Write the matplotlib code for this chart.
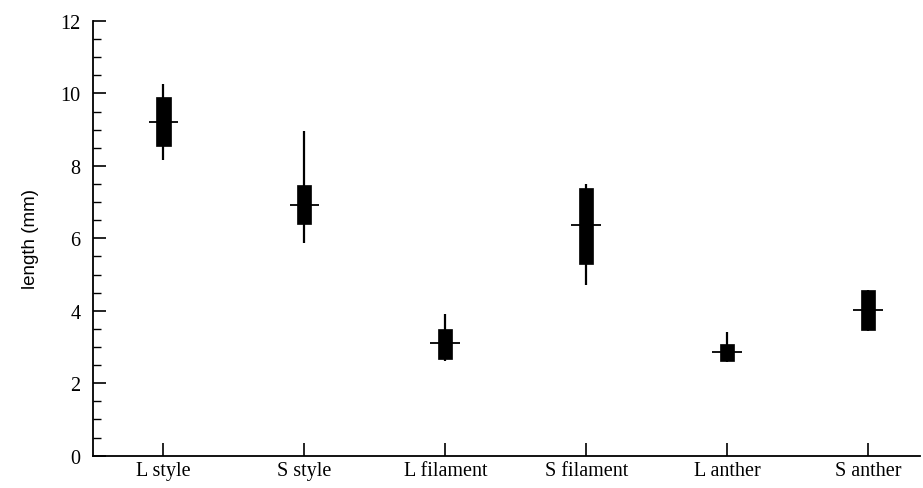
import matplotlib
matplotlib.use("Agg")
import matplotlib.pyplot as plt
from matplotlib.ticker import MultipleLocator

categories = ["L style", "S style", "L filament", "S filament", "L anther", "S anther"]
whisker_low = [8.15, 5.88, 2.62, 4.70, 2.60, 3.45]
box_low = [8.55, 6.41, 2.68, 5.30, 2.62, 3.47]
median = [9.22, 6.93, 3.12, 6.36, 2.87, 4.01]
box_high = [9.90, 7.46, 3.51, 7.38, 3.09, 4.57]
whisker_high = [10.27, 8.95, 3.90, 7.49, 3.41, 4.57]
yticks = [0, 2, 4, 6, 8, 10, 12]

fig = plt.figure(figsize=(9.23, 4.89), dpi=100)
ax = fig.add_axes([0.1008, 0.066, 0.896, 0.889])

pos = list(range(1, len(categories) + 1))
ax.vlines(pos, whisker_low, whisker_high, color="black", linewidth=1.6, zorder=2)
ax.bar(pos, [h - l for h, l in zip(box_high, box_low)], bottom=box_low,
       width=0.1, color="black", edgecolor="black", linewidth=0.5, zorder=3)
ax.hlines(median, [p - 0.105 for p in pos], [p + 0.105 for p in pos],
          color="black", linewidth=1.3, zorder=4)

ax.set_xlim(0.5, 6.37)
ax.set_ylim(0, 12)
ax.set_xticks(pos)
ax.set_xticklabels(categories, fontsize=14.5, fontfamily="Liberation Serif")
ax.set_yticks(yticks)
ax.set_yticklabels([str(v) for v in yticks], fontsize=14.5, fontfamily="Liberation Serif")
ax.yaxis.set_minor_locator(MultipleLocator(0.5))

ax.tick_params(axis="x", direction="in", length=9.5, width=1.2, pad=4)
ax.tick_params(axis="y", which="major", direction="in", length=9.5, width=1.2, pad=9)
ax.tick_params(axis="y", which="minor", direction="in", length=6, width=1.0)

for s in ["top", "right"]:
    ax.spines[s].set_visible(False)
for s in ["left", "bottom"]:
    ax.spines[s].set_linewidth(1.3)

ax.set_ylabel("length (mm)", fontsize=13.5, fontfamily="Liberation Sans", labelpad=15)

fig.savefig("out.png", dpi=100)
